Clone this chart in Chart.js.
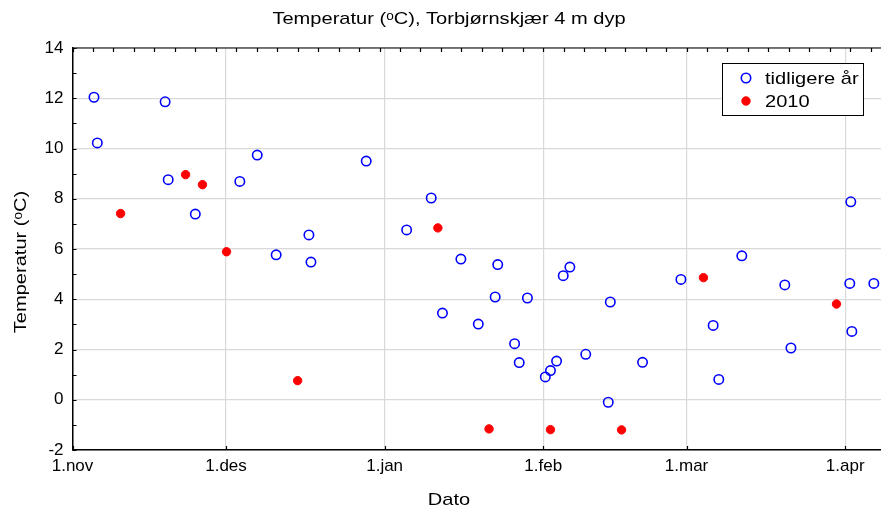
<!DOCTYPE html>
<html lang="no">
<head>
    <meta charset="UTF-8">
    <title>Temperatur Torbjørnskjær</title>
    <script src="https://cdn.jsdelivr.net/npm/chart.js"></script>
    <style>
        * { margin: 0; padding: 0; box-sizing: border-box; }
        body { background: white; width: 881px; height: 512px; overflow: hidden; }
    </style>
</head>
<body>
    <canvas id="tempChart" width="881" height="512"></canvas>

    <script>
        // days counted from 1. november
        const monthLabels = ['1.nov', '1.des', '1.jan', '1.feb', '1.mar', '1.apr'];
        const monthDays = [0, 30, 61, 92, 120, 151];

        const earlierDays = [4.2, 4.85, 18.1, 18.7, 24.0, 32.7, 36.1, 39.8, 46.2, 46.6,
            57.4, 65.3, 70.1, 72.3, 75.9, 79.3, 82.6, 83.1, 86.4, 87.3,
            88.9, 92.4, 93.4, 94.6, 95.9, 97.2, 100.3, 104.7, 105.1, 111.4,
            118.9, 125.2, 126.3, 130.8, 139.2, 140.4, 151.9, 152.1, 152.3, 156.6];
        const earlierTemps = [12.04, 10.22, 11.86, 8.76, 7.39, 8.69, 9.74, 5.77, 6.56, 5.48,
            9.50, 6.76, 8.03, 3.45, 5.60, 3.01, 4.09, 5.38, 2.23, 1.48,
            4.05, 0.91, 1.16, 1.54, 4.94, 5.28, 1.81, -0.10, 3.89, 1.49,
            4.79, 2.96, 0.81, 5.73, 4.57, 2.06, 4.63, 7.88, 2.72, 4.63];

        const days2010 = [9.4, 22.1, 25.4, 30.1, 44.0, 71.4, 81.4, 93.4, 107.3, 123.3, 149.3];
        const temps2010 = [7.41, 8.96, 8.56, 5.89, 0.76, 6.84, -1.16, -1.19, -1.20, 4.86, 3.81];

        const titleText = 'Temperatur (ᵒC), Torbjørnskjær 4 m dyp';
        const xTitle = 'Dato';
        const yTitle = 'Temperatur (ᵒC)';

        const font = 'Liberation Sans, Arial, sans-serif';

        const toPoints = (xs, ys) => xs.map((d, i) => ({ x: d, y: ys[i] }));

        // the labels in the original are a bit wider than Arial
        function wideText(ctx, text, x, y, align, rot) {
            ctx.save();
            ctx.translate(x, y);
            if (rot) ctx.rotate(rot);
            ctx.scale(1.18, 1);
            ctx.textAlign = align;
            ctx.fillText(text, 0, 0);
            ctx.restore();
        }

        // frame ticks (inward), titles and legend box
        const framePlugin = {
            id: 'frame',
            afterDraw(chart) {
                const { ctx, chartArea: a, scales: { x, y } } = chart;
                ctx.save();
                ctx.strokeStyle = '#000';
                ctx.lineWidth = 1.2;
                ctx.beginPath();
                ctx.moveTo(a.left, a.top);
                ctx.lineTo(a.right, a.top);
                for (let d = 0; d <= x.max; d += 4) {
                    const px = Math.round(x.getPixelForValue(d)) + 0.5;
                    ctx.moveTo(px, a.top);
                    ctx.lineTo(px, a.top + 4);
                }
                monthDays.forEach(d => {
                    const px = Math.round(x.getPixelForValue(d)) + 0.5;
                    ctx.moveTo(px, a.bottom);
                    ctx.lineTo(px, a.bottom - 4);
                });
                for (let v = y.min; v <= y.max; v++) {
                    const py = Math.round(y.getPixelForValue(v)) + 0.5;
                    ctx.moveTo(a.left, py);
                    ctx.lineTo(a.left + 4, py);
                }
                ctx.stroke();

                ctx.fillStyle = '#000';
                ctx.font = '17px ' + font;
                ctx.textBaseline = 'middle';
                wideText(ctx, titleText, 449, 19, 'center');
                wideText(ctx, xTitle, 449, 500, 'center');
                wideText(ctx, yTitle, 21, 262, 'center', -Math.PI / 2);

                // legend
                const lx = 722, ly = 63, lw = 141, lh = 52;
                ctx.fillStyle = '#fff';
                ctx.fillRect(lx, ly, lw, lh);
                ctx.lineWidth = 1;
                ctx.strokeRect(lx + 0.5, ly + 0.5, lw, lh);
                chart.data.datasets.forEach((ds, i) => {
                    const cy = ly + 15 + i * 23;
                    ctx.beginPath();
                    ctx.arc(lx + 24, cy, ds.pointRadius, 0, Math.PI * 2);
                    ctx.fillStyle = ds.backgroundColor;
                    ctx.fill();
                    ctx.lineWidth = ds.borderWidth;
                    ctx.strokeStyle = ds.borderColor;
                    ctx.stroke();
                    ctx.fillStyle = '#000';
                    wideText(ctx, ds.label, lx + 43, cy + 1, 'left');
                });
                ctx.restore();
            }
        };

        new Chart(document.getElementById('tempChart'), {
            type: 'scatter',
            data: {
                datasets: [{
                    label: 'tidligere år',
                    data: toPoints(earlierDays, earlierTemps),
                    pointRadius: 4.7,
                    borderWidth: 1.6,
                    borderColor: '#0000ff',
                    backgroundColor: 'rgba(255,255,255,0)'
                }, {
                    label: '2010',
                    data: toPoints(days2010, temps2010),
                    pointRadius: 4.2,
                    borderWidth: 1,
                    borderColor: '#ff0000',
                    backgroundColor: '#ff0000'
                }]
            },
            options: {
                responsive: false,
                animation: false,
                layout: { autoPadding: false, padding: { left: 18, right: 0, top: 48, bottom: 0 } },
                plugins: {
                    legend: { display: false },
                    tooltip: { enabled: false },
                    title: { display: false }
                },
                scales: {
                    x: {
                        type: 'linear',
                        min: 0,
                        max: 158,
                        afterBuildTicks: s => { s.ticks = monthDays.map(v => ({ value: v })); },
                        afterFit: s => { s.height = 62; },
                        ticks: {
                            callback: v => monthLabels[monthDays.indexOf(v)],
                            color: '#000',
                            font: { family: font, size: 17 },
                            padding: 6,
                            maxRotation: 0,
                            autoSkip: false
                        },
                        grid: { color: '#d9d9d9', lineWidth: 1.2, drawTicks: false },
                        border: { color: '#000', width: 1.5 }
                    },
                    y: {
                        min: -2,
                        max: 14,
                        afterFit: s => { s.width = 54.5; },
                        ticks: {
                            stepSize: 2,
                            color: '#000',
                            font: { family: font, size: 17 },
                            padding: 9
                        },
                        grid: { color: '#d9d9d9', lineWidth: 1.2, drawTicks: false },
                        border: { color: '#000', width: 1.5 }
                    }
                }
            },
            plugins: [framePlugin]
        });
    </script>
</body>
</html>
